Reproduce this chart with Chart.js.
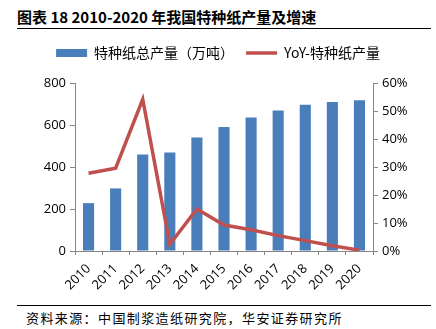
<!DOCTYPE html>
<html>
<head>
<meta charset="utf-8">
<script src="https://cdn.jsdelivr.net/npm/chart.js@4"></script>
<style>
  body { margin: 0; background: #fff; width: 436px; height: 329px; position: relative; overflow: hidden; }
  #title { position: absolute; left: 17px; top: 6px; font: bold 15px "Noto Sans CJK SC", "Noto Sans", sans-serif; color: #000; }
  #topline { position: absolute; left: 17px; top: 28px; width: 414px; border-top: 1px solid #000; }
  #wrap { position: absolute; left: 0; top: 34px; width: 436px; height: 268px; }
  #botline { position: absolute; left: 17px; top: 305px; width: 414px; border-top: 1px solid #000; }
  #source { position: absolute; left: 26px; top: 308px; font: 13px "Noto Sans CJK SC", sans-serif; letter-spacing: 1.4px; color: #000; }
</style>
</head>
<body>
<div id="title">图表 18 2010-2020 年我国特种纸产量及增速</div>
<div id="topline"></div>
<div id="wrap"><canvas id="chart"></canvas></div>
<div id="botline"></div>
<div id="source">资料来源：中国制浆造纸研究院，华安证券研究所</div>
<script>
const years = ["2010", "2011", "2012", "2013", "2014", "2015", "2016", "2017", "2018", "2019", "2020"];
const output = [228, 298, 460, 469, 540, 591, 636, 669, 696, 709, 718];
const yoy = [27.8, 29.6, 54.2, 2.4, 15.0, 9.3, 7.6, 5.5, 3.7, 1.9, 0.3];
const leftTicks = [0, 200, 400, 600, 800];

const axisColor = "#868686";
const tickFont = { family: "'Open Sans', 'Noto Sans', sans-serif", size: 13 };

// legend ist zu nah an der Plotfläche -> etwas Platz darunter
const legendGap = {
    id: "legendGap",
    beforeInit(chart) {
        const fit = chart.legend.fit;
        chart.legend.fit = function () {
            fit.bind(chart.legend)();
            this.height += 13;
        };
    }
};

function drawChart() {
    const ctx = document.getElementById("chart").getContext("2d");
    new Chart(ctx, {
        data: {
            labels: years,
            datasets: [{
                type: "line",
                label: "YoY-特种纸产量",
                data: yoy,
                yAxisID: "y1",
                borderColor: "#C0504D",
                backgroundColor: "#C0504D",
                borderWidth: 3.5,
                pointRadius: 0,
                tension: 0,
                order: 0
            }, {
                type: "bar",
                label: "特种纸总产量（万吨）",
                data: output,
                yAxisID: "y",
                backgroundColor: "#4A7EBB",
                borderWidth: 0,
                categoryPercentage: 0.82,
                barPercentage: 0.5,
                order: 1
            }]
        },
        plugins: [legendGap],
        options: {
            responsive: true,
            maintainAspectRatio: false,
            animation: false,
            layout: { padding: 0 },
            plugins: {
                tooltip: { enabled: false },
                legend: {
                    position: "top",
                    reverse: true,
                    labels: {
                        usePointStyle: true,
                        pointStyleWidth: 31,
                        boxHeight: 8,
                        padding: 12,
                        color: "#000",
                        font: { family: "'Noto Sans CJK SC', sans-serif", size: 14 },
                        generateLabels(chart) {
                            const items = Chart.defaults.plugins.legend.labels.generateLabels(chart);
                            items.forEach(it => {
                                if (it.datasetIndex === 0) {
                                    it.pointStyle = "line";
                                    it.lineWidth = 3.5;
                                    it.strokeStyle = "#C0504D";
                                } else {
                                    it.pointStyle = "rect";
                                    it.lineWidth = 0;
                                }
                            });
                            return items;
                        }
                    }
                }
            },
            scales: {
                x: {
                    offset: true,
                    afterFit(axis) { axis.height = 51; },
                    grid: { display: true, drawOnChartArea: false, offset: true, color: axisColor, tickLength: 4 },
                    border: { color: axisColor },
                    ticks: { color: "#000", font: tickFont, maxRotation: 45, minRotation: 45, padding: 6 }
                },
                y: {
                    position: "left",
                    min: 0,
                    max: 800,
                    afterFit(axis) { axis.width = 75; },
                    afterBuildTicks(axis) { axis.ticks = leftTicks.map(v => ({ value: v })); },
                    grid: { drawOnChartArea: false, color: axisColor, tickLength: 5 },
                    border: { color: axisColor },
                    ticks: { color: "#000", font: tickFont, padding: 4 }
                },
                y1: {
                    position: "right",
                    min: 0,
                    max: 60,
                    afterFit(axis) { axis.width = 63; },
                    ticks: { stepSize: 10, color: "#000", font: tickFont, padding: 4, callback: v => v + "%" },
                    grid: { drawOnChartArea: false, color: axisColor, tickLength: 5 },
                    border: { color: axisColor }
                }
            }
        }
    });
}

window.onload = drawChart;
</script>
</body>
</html>
